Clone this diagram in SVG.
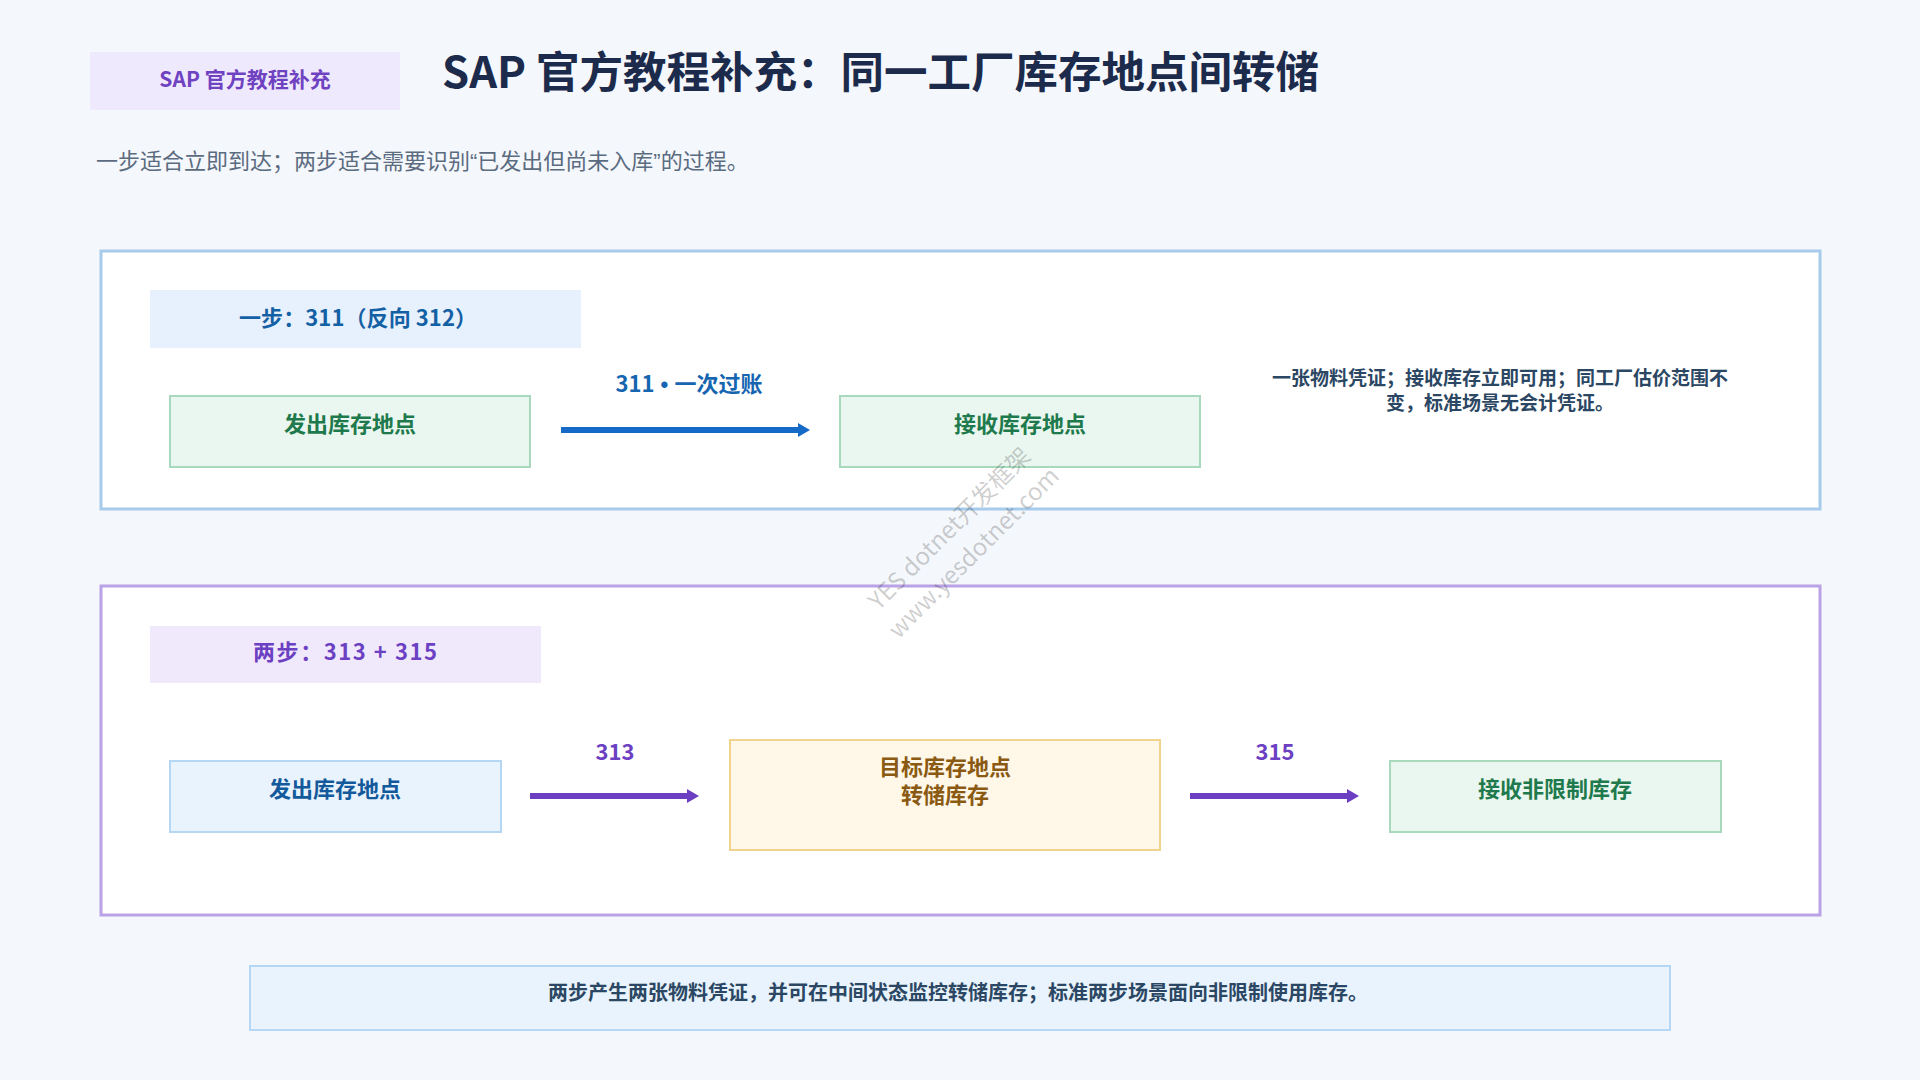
<svg xmlns="http://www.w3.org/2000/svg" width="1920" height="1080" viewBox="0 0 1920 1080">
<defs>
<style>
text{font-family:"Noto Sans CJK SC","Noto Sans",sans-serif;font-weight:700;text-anchor:middle}
.panel{fill:#ffffff;stroke-width:3}
.green rect{fill:#eaf7f0;stroke:#a9d9bd;stroke-width:2}
.green text{fill:#1e7a4c;font-size:22px}
.blue rect{fill:#e8f3fd;stroke:#b5d7f3;stroke-width:2}
.blue text{fill:#135a9c;font-size:22px}
.amber rect{fill:#fff7e7;stroke:#f2d38e;stroke-width:2}
.amber text{fill:#8a5a12;font-size:22px}
.note{fill:#2b4763;font-size:19px}
.elbl{font-size:22px}
.lat{font-family:"Liberation Sans",sans-serif}
.wm{font-weight:400;font-size:24px;fill:#000000;fill-opacity:0.2}
</style>
<marker id="ahBlue" viewBox="0 0 12 14" markerUnits="userSpaceOnUse" markerWidth="12" markerHeight="14" refX="1" refY="7" orient="auto"><path d="M0,0 L12,7 L0,14 z" fill="#1569c7"/></marker>
<marker id="ahPurple" viewBox="0 0 12 14" markerUnits="userSpaceOnUse" markerWidth="12" markerHeight="14" refX="1" refY="7" orient="auto"><path d="M0,0 L12,7 L0,14 z" fill="#6c3fc2"/></marker>
</defs>
<rect x="0" y="0" width="1920" height="1080" fill="#f4f7fb"/>

<g id="header">
<rect x="90" y="52" width="310" height="58" fill="#efe9fd"/>
<text x="245" y="87" font-size="21" fill="#6f42c1">SAP 官方教程补充</text>
<text x="442" y="88" font-size="43.5" fill="#1c2b4b" style="text-anchor:start">SAP 官方教程补充：同一工厂库存地点间转储</text>
<text x="96" y="169" font-size="22" fill="#5b6b80" style="text-anchor:start;font-weight:400">一步适合立即到达；两步适合需要识别<tspan class="lat">“</tspan>已发出但尚未入库<tspan class="lat">”</tspan>的过程。</text>
</g>

<g id="panel-one-step">
<rect class="panel" x="101" y="251" width="1719" height="258" stroke="#a7cbea"/>
<rect x="150" y="290" width="431" height="58" fill="#e7f1fd"/>
<text x="358" y="326" font-size="22" fill="#1460a5" textLength="238" lengthAdjust="spacing">一步：311（反向 312）</text>
</g>

<g id="panel-two-step">
<rect class="panel" x="101" y="586" width="1719" height="329" stroke="#b9a2e6"/>
<rect x="150" y="626" width="391" height="57" fill="#f0e9fc"/>
<text x="345" y="660" font-size="22" fill="#6c40c2" textLength="184" lengthAdjust="spacing">两步：313 + 315</text>
</g>

<g id="node-src1" class="green">
<rect x="170" y="396" width="360" height="71"/>
<text x="350" y="432">发出库存地点</text>
</g>
<g id="node-dst1" class="green">
<rect x="840" y="396" width="360" height="71"/>
<text x="1020" y="432">接收库存地点</text>
</g>
<g id="note1">
<text class="note" x="1500" y="385">一张物料凭证；接收库存立即可用；同工厂估价范围不</text>
<text class="note" x="1500" y="410">变，标准场景无会计凭证。</text>
</g>

<g id="node-src2" class="blue">
<rect x="170" y="761" width="331" height="71"/>
<text x="335" y="797">发出库存地点</text>
</g>
<g id="node-transit" class="amber">
<rect x="730" y="740" width="430" height="110"/>
<text x="945" y="775">目标库存地点</text>
<text x="945" y="803">转储库存</text>
</g>
<g id="node-dst2" class="green">
<rect x="1390" y="761" width="331" height="71"/>
<text x="1555" y="797">接收非限制库存</text>
</g>

<g id="connectors">
<line x1="561" y1="430" x2="799" y2="430" stroke="#1569c7" stroke-width="6" marker-end="url(#ahBlue)"/>
<text class="elbl" x="689" y="392" fill="#1565b0">311<tspan class="lat"> • </tspan>一次过账</text>
<line x1="530" y1="796" x2="688" y2="796" stroke="#6c3fc2" stroke-width="6" marker-end="url(#ahPurple)"/>
<text class="elbl" x="615" y="760" fill="#6c40c2">313</text>
<line x1="1190" y1="796" x2="1348" y2="796" stroke="#6c3fc2" stroke-width="6" marker-end="url(#ahPurple)"/>
<text class="elbl" x="1275" y="760" fill="#6c40c2">315</text>
</g>

<g id="footer-note">
<rect x="250" y="966" width="1420" height="64" fill="#e8f3fd" stroke="#b5d7f3" stroke-width="2"/>
<text x="958" y="1000" font-size="20" fill="#2b4763">两步产生两张物料凭证，并可在中间状态监控转储库存；标准两步场景面向非限制使用库存。</text>
</g>

<g id="watermark" transform="rotate(-45 964 543)">
<text class="wm" x="964" y="531">YES dotnet开发框架</text>
<text class="wm" x="964" y="565">www.yesdotnet.com</text>
</g>
</svg>
